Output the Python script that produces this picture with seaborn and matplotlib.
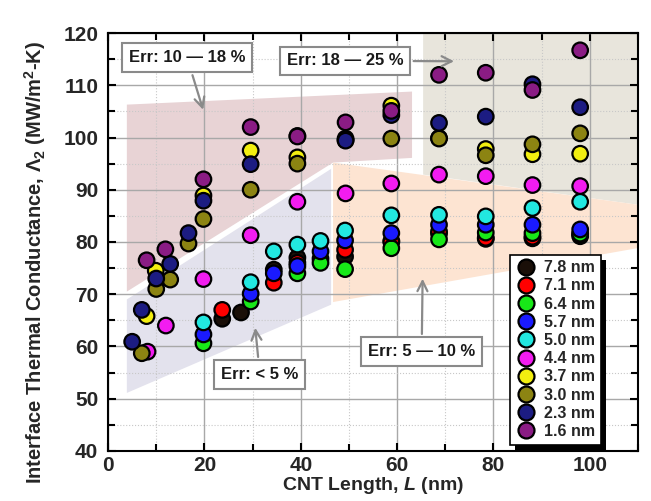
import numpy as np
import pandas as pd
import seaborn as sns
import matplotlib.pyplot as plt
from matplotlib.patches import Polygon
from matplotlib.ticker import MultipleLocator
import matplotlib.patheffects as pe

# --- DATOS ---
diametros = ["7.8 nm", "7.1 nm", "6.4 nm", "5.7 nm", "5.0 nm",
             "4.4 nm", "3.7 nm", "3.0 nm", "2.3 nm", "1.6 nm"]
colores = ["#1a0f08", "#ff0000", "#18e818", "#1a1aff", "#22e8e0",
           "#f21cf0", "#f2ee10", "#8c8412", "#1c1c82", "#8a1c84"]

L_78 = [23.7, 27.6, 34.4, 39.3, 44.1, 49.2, 58.8, 68.7, 78.4, 88.1, 98.0]
G_78 = [65.3, 66.5, 74.7, 77.0, 76.8, 77.2, 80.2, 81.6, 80.6, 80.7, 81.1]

L_71 = [23.7, 34.4, 39.3, 49.2, 58.8, 68.7, 78.4, 88.1, 98.0]
G_71 = [67.0, 72.2, 76.0, 78.5, 80.0, 82.0, 80.8, 81.0, 81.5]

L_64 = [19.8, 29.6, 39.3, 44.1, 49.2, 58.8, 68.7, 78.4, 88.1, 98.0]
G_64 = [60.6, 68.6, 74.0, 76.0, 74.8, 78.8, 80.5, 81.8, 81.7, 81.6]

L_57 = [19.8, 29.6, 34.4, 39.3, 44.1, 49.2, 58.8, 68.7, 78.4, 88.1, 98.0]
G_57 = [62.3, 70.1, 74.0, 75.4, 78.2, 80.3, 81.7, 83.3, 83.3, 83.3, 82.4]

L_50 = [19.8, 29.6, 34.4, 39.3, 44.1, 49.2, 58.8, 68.7, 78.4, 88.1, 98.0]
G_50 = [64.6, 72.3, 78.2, 79.5, 80.2, 82.2, 85.1, 85.2, 84.9, 86.5, 87.7]

L_44 = [8.2, 12.0, 19.8, 29.6, 39.3, 49.3, 58.8, 68.7, 78.4, 88.1, 98.0]
G_44 = [59.0, 64.0, 72.9, 81.3, 87.7, 89.3, 91.2, 92.9, 92.6, 90.9, 90.7]

L_37 = [8.0, 9.9, 19.8, 29.6, 39.3, 49.3, 58.8, 68.7, 78.4, 88.1, 98.0]
G_37 = [65.8, 74.5, 88.9, 97.5, 96.2, 99.8, 106.1, 99.9, 97.8, 96.8, 96.9]

L_30 = [7.0, 10.0, 12.9, 16.7, 19.8, 29.6, 39.3, 49.3, 58.8, 68.7, 78.4, 88.1, 98.0]
G_30 = [58.7, 71.0, 72.8, 79.7, 84.4, 90.0, 95.0, 99.5, 99.8, 99.8, 96.6, 98.7, 100.8]

L_23 = [5.0, 7.0, 10.0, 12.9, 16.7, 19.8, 29.6, 39.3, 49.3, 58.8, 68.7, 78.4, 88.1, 98.0]
G_23 = [60.9, 67.0, 73.0, 75.8, 81.7, 87.9, 94.9, 100.3, 99.4, 104.3, 102.8, 104.0, 110.2, 105.8]

L_16 = [8.0, 11.9, 19.8, 29.6, 39.3, 49.3, 58.8, 68.7, 78.4, 88.1, 98.0]
G_16 = [76.5, 78.6, 92.0, 102.0, 100.2, 102.9, 105.1, 112.0, 112.4, 109.1, 116.7]

series_L = [L_78, L_71, L_64, L_57, L_50, L_44, L_37, L_30, L_23, L_16]
series_G = [G_78, G_71, G_64, G_57, G_50, G_44, G_37, G_30, G_23, G_16]

df = pd.concat([pd.DataFrame({"L": l, "G": g, "d": d})
                for l, g, d in zip(series_L, series_G, diametros)],
               ignore_index=True)

# --- ESTILO ---
sns.set_theme(style="ticks")
plt.rcParams["font.family"] = ["Liberation Sans", "DejaVu Sans"]
plt.rcParams["font.weight"] = "bold"
plt.rcParams["mathtext.fontset"] = "custom"
plt.rcParams["mathtext.rm"] = "Liberation Sans:bold"
plt.rcParams["mathtext.it"] = "Liberation Sans:italic:bold"
plt.rcParams["mathtext.bf"] = "Liberation Sans:bold"

fig = plt.figure(figsize=(6.51, 5.01), dpi=100)
ax = fig.add_axes([0.166, 0.100, 0.814, 0.834])

# zonas de error (fondo)
zonas = [
    ([(3.9, 106.3), (63.1, 108.8), (63.1, 96.1), (46.7, 95.2), (3.9, 70.5)], "#e8d3d5"),
    ([(65.4, 120), (111, 120), (111, 87.0), (65.4, 92.9)], "#e8e5dc"),
    ([(46.7, 95.2), (111, 87.0), (111, 79.0), (46.7, 68.5)], "#fde4d2"),
    ([(3.9, 69.0), (46.3, 94.0), (46.3, 68.0), (3.9, 51.1)], "#e3e2ed"),
]
for pts, c in zonas:
    ax.add_patch(Polygon(pts, closed=True, fc=c, ec="none", zorder=0.2))

sns.scatterplot(data=df, x="L", y="G", hue="d", hue_order=diametros,
                palette=dict(zip(diametros, colores)), s=125,
                edgecolor="black", linewidth=1.6, ax=ax, zorder=3)

ax.set_xlim(0, 110)
ax.set_ylim(40, 120)
ax.xaxis.set_major_locator(MultipleLocator(20))
ax.xaxis.set_minor_locator(MultipleLocator(10))
ax.yaxis.set_major_locator(MultipleLocator(10))
ax.yaxis.set_minor_locator(MultipleLocator(5))
ax.tick_params(which="both", direction="in", top=True, right=True,
               width=1.5, color="black", labelsize=15, pad=7)
ax.tick_params(axis="x", which="both", pad=4)
ax.tick_params(which="major", length=6)
ax.tick_params(which="minor", length=5)
for s in ax.spines.values():
    s.set_linewidth(1.5)
    s.set_color("black")
ax.grid(which="major", color="#a8a8a8", lw=1.0, zorder=1)
ax.grid(which="minor", color="#c8c8c8", lw=0.8, ls=":", zorder=1)
ax.set_axisbelow(True)

ax.set_xlabel("CNT Length, $\\mathit{L}$ (nm)", fontsize=14, fontweight="bold", labelpad=0)
ax.set_ylabel("Interface Thermal Conductance, $\\mathit{\\Lambda}_2$ (MW/m$^2$-K)",
              fontsize=14.5, fontweight="bold")
ax.yaxis.set_label_coords(-0.113, 0.452)

# anotaciones
caja = dict(boxstyle="square,pad=0.4", fc="white", ec="#8a8a8a", lw=1.5)
flecha = dict(arrowstyle="->,head_length=0.6,head_width=0.3", color="#8a8a8a", lw=1.6)
notas = [
    ("Err: 10 \u2014 18 %", (19.9, 104.8), (16.4, 115.3)),
    ("Err: 18 \u2014 25 %", (72.4, 114.6), (49.2, 114.7)),
    ("Err: < 5 %", (30.5, 64.1), (31.5, 54.6)),
    ("Err: 5 \u2014 10 %", (65.3, 73.5), (65.1, 59.0)),
]
for txt, tip, pos in notas:
    ax.annotate(txt, xy=tip, xytext=pos, ha="center", va="center",
                fontsize=12, fontweight="bold", color="#1a1a1a",
                bbox=caja, arrowprops=flecha, zorder=5)

leg = ax.legend(loc="lower left", bbox_to_anchor=(0.743, -0.004), frameon=True,
                fancybox=False, framealpha=1, edgecolor="black",
                prop={"weight": "bold", "size": 11.5}, labelspacing=0.2,
                handletextpad=0.5, borderpad=0.35, handlelength=1.3)
leg.get_frame().set_linewidth(1.2)
leg.get_frame().set_path_effects([pe.withSimplePatchShadow(offset=(4, -4),
                                  shadow_rgbFace="black", alpha=1)])
leg.set_zorder(6)
for h in leg.legend_handles:
    h.set_markersize(11.5)
    h.set_markeredgecolor("black")
    h.set_markeredgewidth(1.6)

fig.savefig("out.png", dpi=100)
